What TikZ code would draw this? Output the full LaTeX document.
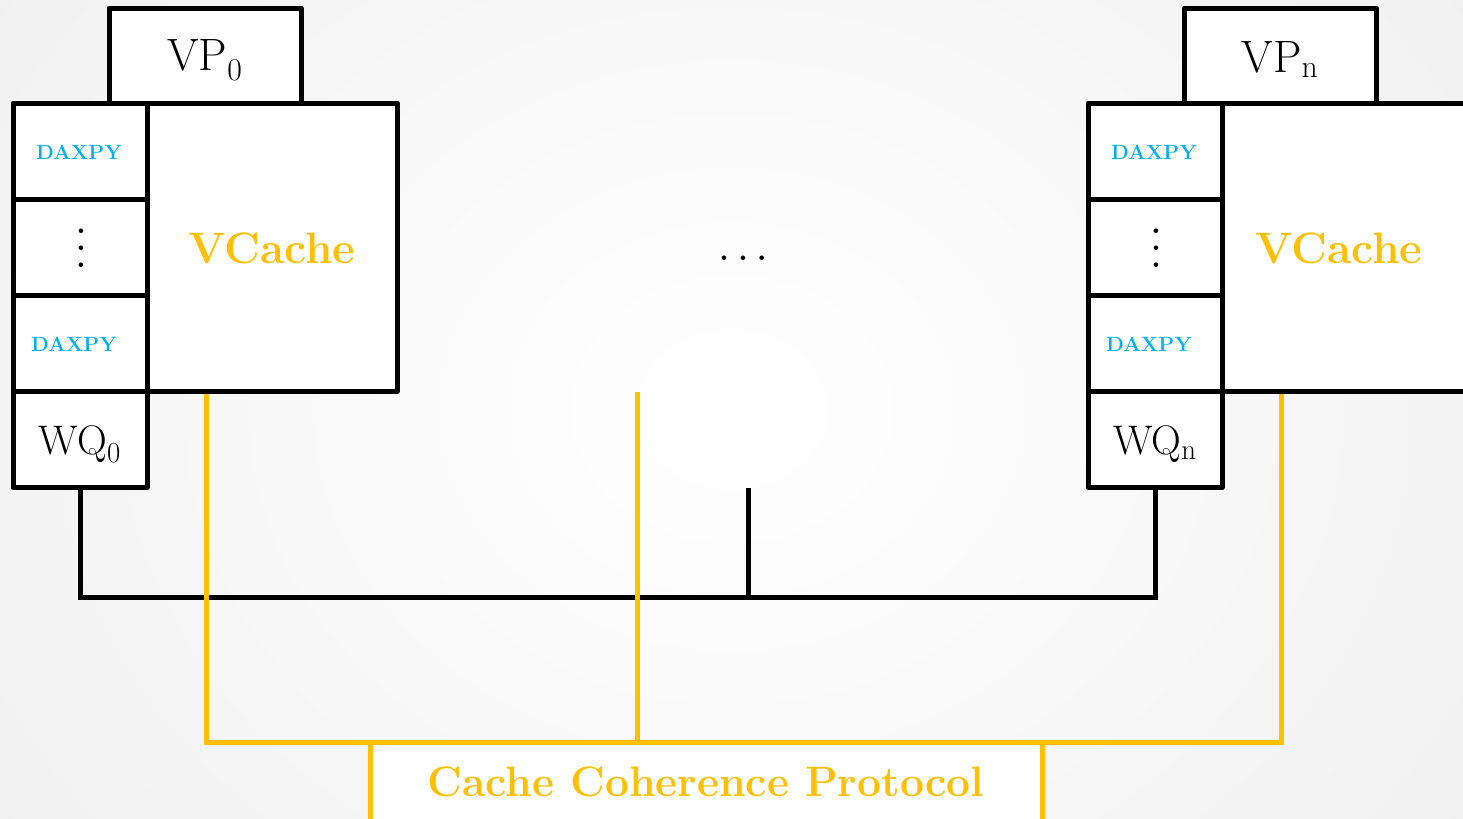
\documentclass[tikz,border=0pt]{standalone}
\usetikzlibrary{calc}
\definecolor{cyel}{HTML}{FFC000}
\definecolor{cblue}{HTML}{00B0F0}
\definecolor{bgout}{HTML}{EFEFEF}
\pgfdeclarelayer{shadelayer}
\pgfdeclarelayer{connlayer}
\pgfsetlayers{shadelayer,connlayer,main}
\tikzset{
  box/.style={draw=black, line width=3.75pt, fill=white, inner sep=0pt, line join=round},
  cellbox/.style={box, minimum width=100.5pt, minimum height=72pt},
  vpbox/.style={box, minimum width=144pt, minimum height=71.25pt},
  vplabel/.style={inner sep=0pt, font=\fontsize{34}{40}\selectfont},
  vcbox/.style={box, minimum width=187.5pt, minimum height=216pt},
  daxpy/.style={text=cblue, font=\bfseries\fontsize{15.5}{18}\selectfont},
  vclabel/.style={text=cyel, font=\bfseries\fontsize{33}{38}\selectfont},
  wqlabel/.style={inner sep=0pt, font=\fontsize{31}{36}\selectfont},
  dotslabel/.style={inner sep=0pt, scale=3.2},
  blk/.style={draw=black, line width=3.75pt},
  ylw/.style={draw=cyel, line width=3.75pt},
  ccpbox/.style={draw=cyel, line width=3.75pt, fill=white, minimum width=504pt, minimum height=60pt, inner sep=0pt, text=cyel, font=\bfseries\fontsize{32}{38}\selectfont}
}
\begin{document}
\begin{tikzpicture}[x=0.75pt, y=-0.75pt]
\useasboundingbox (0,0) rectangle (1463,818);
\clip (0,0) rectangle (1463,818);
\begin{pgfonlayer}{shadelayer}
\shade[inner color=white, outer color=bgout] (-300,-450) rectangle (1763,1268);
\end{pgfonlayer}

% black bus
\coordinate (bus) at (748,597);
\coordinate (stub) at (748,488);
% yellow bus
\coordinate (c0) at (206,391);
\coordinate (cn) at (1281,391);
\coordinate (cm) at (637,392);
\coordinate (ybus) at (637,742);

% protocol box
\node[ccpbox] (ccp) at (706,782) {Cache Coherence Protocol};

% left unit
\node[vpbox] (vp0) at (205,55.5) {};
\node[vplabel] (vpt0) at (205,60) {VP\textsubscript{0}};
\node[vcbox] (vc0) at (272,247) {};
\node[vclabel] (vct0) at (272,248) {VCache};
\node[cellbox] (da0) at (80,151) {};
\node[daxpy] at (79,152) {DAXPY};
\node[cellbox] (dd0) at (80,247) {};
\node[dotslabel] (vd0) at (81,235) {$\vdots$};
\node[cellbox] (db0) at (80,343) {};
\node[daxpy] at (74,344) {DAXPY};
\node[cellbox] (wq0) at (80,439.5) {};
\node[wqlabel] (wqt0) at (80,444) {WQ\textsubscript{0}};

% right unit
\node[vpbox] (vpn) at (1280.5,55.5) {};
\node[vplabel] (vptn) at (1280,60) {VP\textsubscript{n}};
\node[vcbox] (vcn) at (1347,247) {};
\node[vclabel] (vctn) at (1339,248) {VCache};
\node[cellbox] (dan) at (1155,151) {};
\node[daxpy] at (1154,152) {DAXPY};
\node[cellbox] (ddn) at (1155,247) {};
\node[dotslabel] (vdn) at (1156,235) {$\vdots$};
\node[cellbox] (dbn) at (1155,343) {};
\node[daxpy] at (1149,344) {DAXPY};
\node[cellbox] (wqn) at (1155,439.5) {};
\node[wqlabel] (wqtn) at (1155,444) {WQ\textsubscript{n}};

% middle dots
\node[dotslabel] (mdots) at (743,258) {$\ldots$};

% connectors (behind boxes)
\begin{pgfonlayer}{connlayer}
\draw[blk] (wq0.south) |- (bus) -| (wqn.south);
\draw[blk] (stub) -- (bus);
\draw[ylw] (c0) |- (ybus) -| (cn);
\draw[ylw] (cm) -- (ybus);
\end{pgfonlayer}
\end{tikzpicture}
\end{document}
